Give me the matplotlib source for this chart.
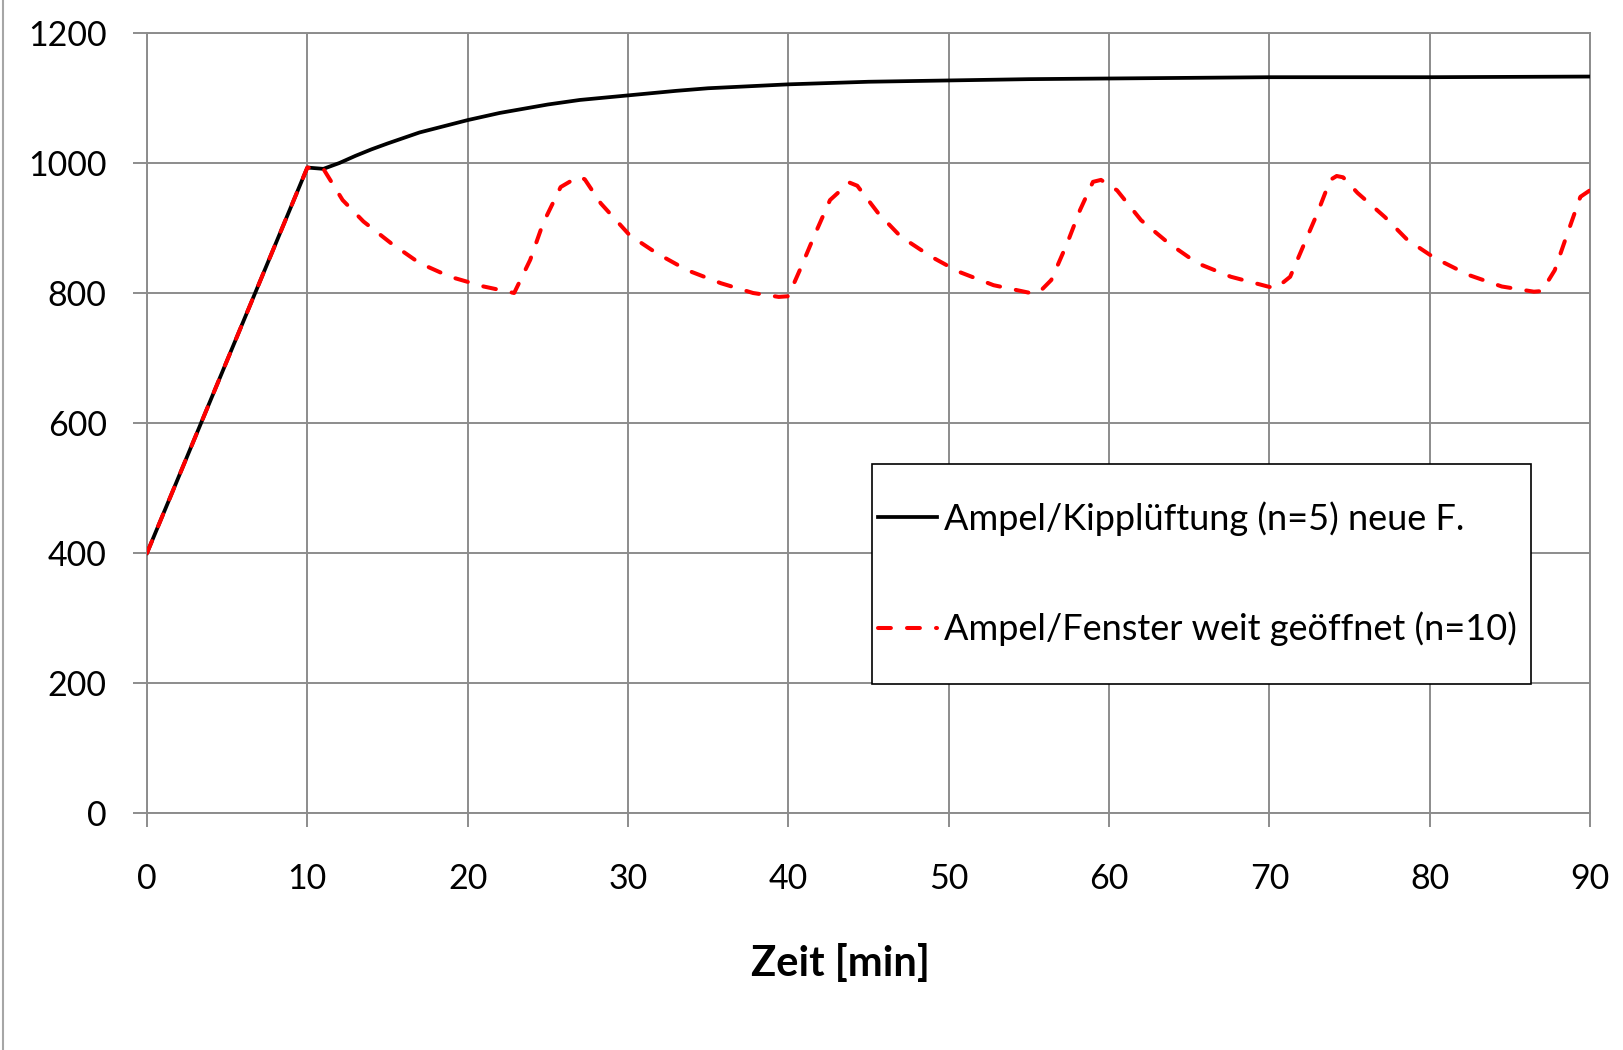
import matplotlib
matplotlib.use("Agg")
import matplotlib.pyplot as plt
import matplotlib.patches as patches
from matplotlib.lines import Line2D

plt.rcParams['font.family'] = ['Lato', 'DejaVu Sans']

# Ampel/Kipplueftung (n=5) neue F.
t_kipp = [0, 10, 11, 12, 13, 14, 15, 17, 20, 22, 25, 27, 30, 33, 35, 40,
          45, 50, 55, 60, 65, 70, 80, 90]
co2_kipp = [400, 993, 991, 1000, 1011, 1021, 1030, 1047, 1066, 1077, 1090, 1097,
            1104, 1111, 1115, 1121, 1125, 1127, 1129, 1130, 1131, 1132, 1132, 1133]

# Ampel/Fenster weit geoeffnet (n=10)
t_fenster = [0, 10, 11, 12.2, 13.5, 15.2, 17.0, 18.9, 21.0, 22.9,
             23.9, 24.7, 25.8, 26.9, 27.3, 28.3, 30.1, 31.8, 33.7, 35.8, 37.8, 39.4, 40.0,
             40.8, 41.6, 42.6, 43.8, 44.3, 45.6, 47.0, 48.9, 50.6, 52.8, 55.1, 55.6,
             56.4, 57.4, 58.2, 59.0, 59.5, 60.5, 62.0, 63.7, 65.5, 67.6, 69.9, 70.4,
             71.3, 72.2, 73.0, 73.8, 74.2, 74.6, 75.5, 77.2, 78.6, 80.3, 82.4, 84.5, 86.5, 87.0,
             87.8, 88.6, 89.4, 90]
co2_fenster = [400, 993, 991, 943, 910, 877, 846, 825, 810, 800,
               851, 907, 963, 979, 975, 938, 889, 861, 835, 815, 800, 794, 795,
               840, 887, 943, 970, 965, 923, 887, 856, 833, 812, 800, 800,
               820, 877, 928, 971, 974, 958, 912, 877, 846, 825, 810, 807,
               825, 877, 923, 974, 980, 978, 954, 917, 882, 854, 828, 810, 802, 803,
               835, 892, 948, 958]

labels = ['Ampel/Kippl\u00fcftung (n=5) neue F.', 'Ampel/Fenster weit ge\u00f6ffnet (n=10)']
xticks = list(range(0, 91, 10))
yticks = list(range(0, 1201, 200))

W, H = 1624, 1050
fig = plt.figure(figsize=(W / 100, H / 100), dpi=100)
ax = fig.add_axes([147 / W, 1 - 813 / H, (1590 - 147) / W, (813 - 33) / H])

gridc = '#8c8c8c'
ax.plot(t_kipp, co2_kipp, color='black', lw=2.7, label=labels[0], zorder=3)
ax.plot(t_fenster, co2_fenster, color='#ff0000', lw=2.9, dashes=(3.2, 4.0),
        dash_capstyle='round', label=labels[1], zorder=4)

ax.set_xlim(0, 90)
ax.set_ylim(0, 1200)
ax.set_xticks(xticks)
ax.set_yticks(yticks)
ax.grid(True, color=gridc, lw=1.4, zorder=0)
for s in ax.spines.values():
    s.set_color(gridc)
    s.set_linewidth(1.4)
ax.tick_params(axis='x', length=10, width=1.4, color=gridc, pad=26, labelsize=24.5)
ax.tick_params(axis='y', length=10, width=1.4, color=gridc, pad=19, labelsize=24.5)

fig.text(840 / W, 1 - 963 / H, 'Zeit [min]', ha='center', va='center',
         fontsize=30, fontweight='bold')

# legend box
box = patches.Rectangle((872 / W, 1 - 684 / H), (1531 - 872) / W, (684 - 464) / H,
                        transform=fig.transFigure, facecolor='white', edgecolor='black',
                        lw=1.2, zorder=4.5, clip_on=False)
ax.add_patch(box)
leg = ax.legend(loc='upper left', bbox_to_anchor=(878 / W, 1 - 501 / H),
                bbox_transform=fig.transFigure, frameon=False, fontsize=26,
                handlelength=1.63, handletextpad=0.2, labelspacing=2.11,
                borderpad=0, borderaxespad=0)
leg.set_zorder(6)

# gray border at the left edge
fig.add_artist(Line2D([3 / W, 3 / W], [0, 1], transform=fig.transFigure,
                      color='#a6a6a6', lw=1.5))

fig.savefig('out.png', dpi=100)
